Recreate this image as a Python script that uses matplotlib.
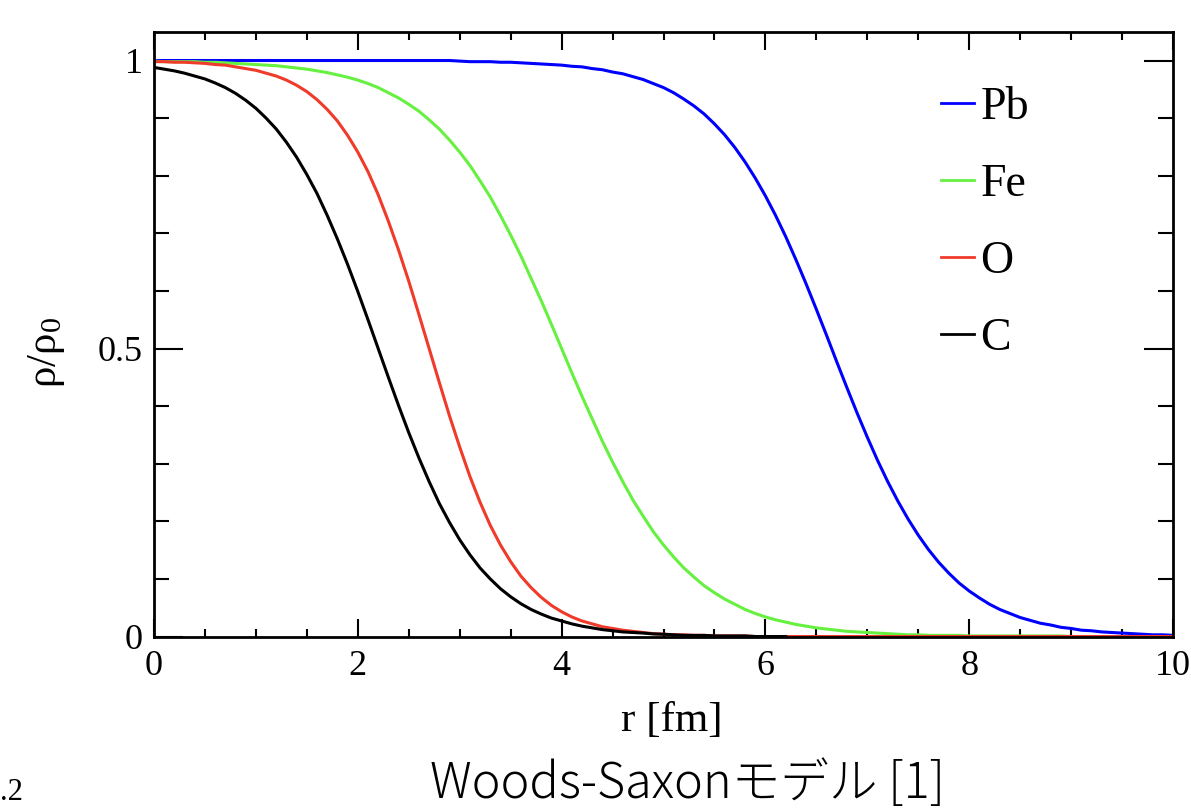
import matplotlib
matplotlib.use('Agg')
from matplotlib import pyplot as plt
from matplotlib import ticker

plt.rcParams['font.family'] = ['Liberation Serif', 'DejaVu Serif']
plt.rcParams['mathtext.fontset'] = 'custom'
plt.rcParams['mathtext.rm'] = 'Liberation Serif'
plt.rcParams['mathtext.default'] = 'regular'

# sampling grid, r [fm] every 0.1 fm from 0 to 10
r_fm = [round(0.1 * i, 1) for i in range(101)]

# rho/rho0
rho_pb = [1.0, 1.0, 1.0, 1.0, 1.0, 1.0, 1.0, 1.0, 1.0, 1.0,
          1.0, 1.0, 1.0, 1.0, 1.0, 1.0, 1.0, 1.0, 1.0, 1.0,
          1.0, 1.0, 1.0, 1.0, 1.0, 1.0, 1.0, 1.0, 1.0, 1.0,
          0.999, 0.998, 0.998, 0.998, 0.997, 0.997, 0.996, 0.995, 0.994, 0.993,
          0.992, 0.990, 0.989, 0.986, 0.984, 0.980, 0.977, 0.972, 0.967, 0.960,
          0.953, 0.944, 0.933, 0.921, 0.907, 0.890, 0.871, 0.849, 0.824, 0.796,
          0.765, 0.731, 0.694, 0.654, 0.612, 0.568, 0.523, 0.477, 0.432, 0.388,
          0.346, 0.306, 0.269, 0.235, 0.204, 0.176, 0.151, 0.129, 0.110, 0.093,
          0.079, 0.067, 0.056, 0.047, 0.040, 0.033, 0.028, 0.023, 0.020, 0.016,
          0.014, 0.011, 0.010, 0.008, 0.007, 0.006, 0.005, 0.004, 0.003, 0.003,
          0.002]
rho_fe = [0.999, 0.998, 0.998, 0.998, 0.998, 0.997, 0.997, 0.996, 0.995, 0.994,
          0.993, 0.992, 0.991, 0.989, 0.987, 0.985, 0.982, 0.979, 0.975, 0.971,
          0.966, 0.960, 0.953, 0.944, 0.935, 0.924, 0.912, 0.897, 0.881, 0.862,
          0.841, 0.818, 0.791, 0.763, 0.731, 0.697, 0.661, 0.622, 0.583, 0.542,
          0.500, 0.458, 0.417, 0.378, 0.339, 0.303, 0.269, 0.237, 0.209, 0.182,
          0.159, 0.138, 0.119, 0.103, 0.088, 0.076, 0.065, 0.056, 0.047, 0.040,
          0.034, 0.029, 0.025, 0.021, 0.018, 0.015, 0.013, 0.011, 0.009, 0.008,
          0.007, 0.006, 0.005, 0.004, 0.003, 0.003, 0.002, 0.002, 0.002, 0.002,
          0.001, 0.001, 0.001, 0.001, 0.001, 0.001, 0.001, 0.001, 0.001, 0.001,
          0.0, 0.0, 0.0, 0.0, 0.0, 0.0, 0.0, 0.0, 0.0, 0.0,
          0.0]
rho_o = [0.998, 0.998, 0.997, 0.997, 0.996, 0.995, 0.993, 0.992, 0.989, 0.986,
         0.983, 0.978, 0.973, 0.966, 0.957, 0.946, 0.932, 0.915, 0.895, 0.870,
         0.841, 0.807, 0.767, 0.721, 0.671, 0.617, 0.559, 0.500, 0.441, 0.383,
         0.329, 0.278, 0.233, 0.193, 0.159, 0.130, 0.105, 0.085, 0.068, 0.054,
         0.043, 0.034, 0.027, 0.022, 0.017, 0.014, 0.011, 0.009, 0.007, 0.005,
         0.004, 0.003, 0.003, 0.002, 0.002, 0.001, 0.001, 0.001, 0.001, 0.0,
         0.0, 0.0, 0.0, 0.0, 0.0, 0.0, 0.0, 0.0, 0.0, 0.0,
         0.0, 0.0, 0.0, 0.0, 0.0, 0.0, 0.0, 0.0, 0.0, 0.0,
         0.0, 0.0, 0.0, 0.0, 0.0, 0.0, 0.0, 0.0, 0.0, 0.0,
         0.0, 0.0, 0.0, 0.0, 0.0, 0.0, 0.0, 0.0, 0.0, 0.0,
         0.0]
# C curve stops at 6.2 fm
rho_c = [0.988, 0.985, 0.982, 0.978, 0.973, 0.968, 0.961, 0.953, 0.943, 0.931,
         0.917, 0.900, 0.881, 0.858, 0.832, 0.802, 0.769, 0.731, 0.690, 0.646,
         0.599, 0.550, 0.500, 0.450, 0.401, 0.354, 0.310, 0.269, 0.231, 0.198,
         0.168, 0.142, 0.119, 0.100, 0.083, 0.069, 0.057, 0.047, 0.039, 0.032,
         0.027, 0.022, 0.018, 0.015, 0.012, 0.010, 0.008, 0.007, 0.006, 0.0045,
         0.004, 0.003, 0.002, 0.002, 0.002, 0.001, 0.001, 0.001, 0.001, 0.0,
         0.0, 0.0, 0.0]

fig = plt.figure(figsize=(11.91, 8.09), dpi=100)
ax = fig.add_axes([0.1293, 0.2132, 0.8556, 0.7476])

lw = 2.2
ax.plot(r_fm, rho_pb, color='#0000ff', lw=lw, label='Pb')
ax.plot(r_fm, rho_fe, color='#66f040', lw=lw, label='Fe')
ax.plot(r_fm, rho_o, color='#f03a2a', lw=lw, label='O')
ax.plot(r_fm[:len(rho_c)], rho_c, color='black', lw=lw, label='C')

ax.set_xlim(0, 10)
ax.set_ylim(0, 1.05)

ax.xaxis.set_major_locator(ticker.MultipleLocator(2))
ax.xaxis.set_minor_locator(ticker.MultipleLocator(0.5))
ax.yaxis.set_major_locator(ticker.FixedLocator([0, 0.5, 1]))
ax.yaxis.set_minor_locator(ticker.MultipleLocator(0.1))
ax.yaxis.set_major_formatter(ticker.FuncFormatter(lambda v, p: f'{v:g}'))

for s in ax.spines.values():
    s.set_linewidth(2.0)
ax.tick_params(axis='both', which='both', direction='in', top=True, right=True,
               width=1.5, labelsize=26)
ax.tick_params(axis='x', which='major', length=13, pad=10)
ax.tick_params(axis='x', which='minor', length=6)
ax.tick_params(axis='y', which='major', length=21, pad=8)
ax.tick_params(axis='y', which='minor', length=11)

ax.set_xlabel('r [fm]', fontsize=31)
ax.xaxis.set_label_coords(0.508, -0.107)
ax.set_ylabel('ρ/ρ$_0$', fontsize=31)
ax.yaxis.set_label_coords(-0.0854, 0.47)

leg = ax.legend(loc='upper left', bbox_to_anchor=(0.772, 0.9086), frameon=False,
                fontsize=33, handlelength=0.72, handletextpad=0.15,
                labelspacing=0.75, borderpad=0, borderaxespad=0)
for h in leg.get_lines():
    h.set_linewidth(2.0)

fig.text(687 / 1191, 1 - 784 / 809, 'Woods-Saxonモデル [1]', ha='center', va='center',
         fontsize=35, family=['Noto Sans CJK JP', 'DejaVu Sans'], fontweight='light')
fig.text(0.0, 1 - 793 / 809, '.2', ha='left', va='center', fontsize=22)

fig.savefig('out.png', dpi=100)
plt.close()
